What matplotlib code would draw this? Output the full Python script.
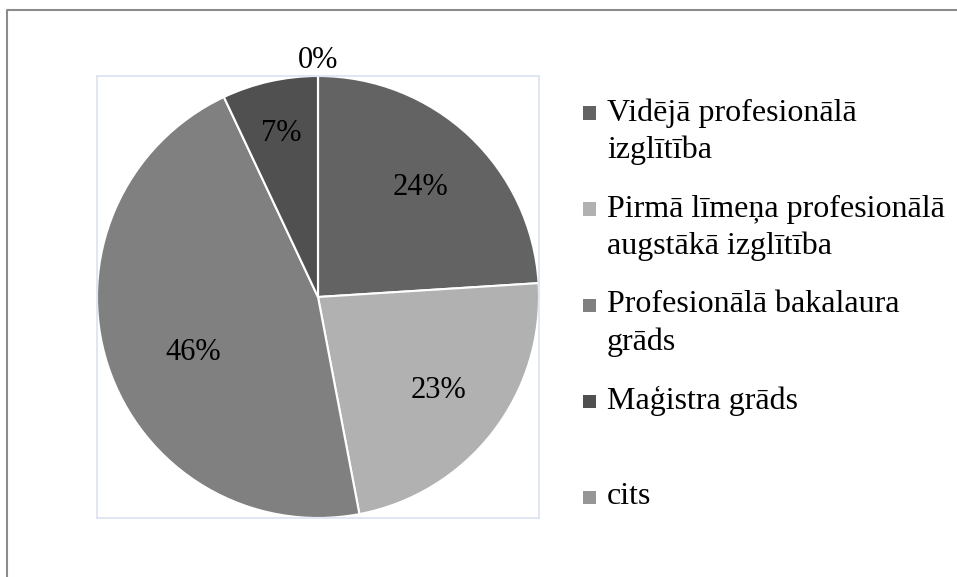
import numpy as np
import matplotlib.pyplot as plt
from matplotlib.lines import Line2D
from matplotlib.patches import Rectangle

# education level shares (%)
categories = ['Vidējā profesionālā izglītība',
              'Pirmā līmeņa profesionālā augstākā izglītība',
              'Profesionālā bakalaura grāds',
              'Maģistra grāds',
              'cits']
legend_lines = [['Vidējā profesionālā', 'izglītība'],
                ['Pirmā līmeņa profesionālā', 'augstākā izglītība'],
                ['Profesionālā bakalaura', 'grāds'],
                ['Maģistra grāds'],
                ['cits']]
shares = [24, 23, 46, 7, 0]
colors = ['#636363', '#b1b1b1', '#808080', '#505050', '#969696']

plt.rcParams['font.family'] = ['Liberation Serif', 'DejaVu Serif']

W, H = 957, 577
fig = plt.figure(figsize=(W / 100, H / 100), dpi=100)

# pie axes, placed in pixel terms
left, right, top, bottom = 97, 539, 76, 518
ax = fig.add_axes([left / W, 1 - bottom / H, (right - left) / W, (bottom - top) / H])
wedges, _ = ax.pie(shares, colors=colors, startangle=90, counterclock=False,
                   wedgeprops=dict(edgecolor='white', linewidth=1.5))
ax.set_xlim(-1, 1)
ax.set_ylim(-1, 1)
ax.set_aspect('equal')
ax.set_frame_on(True)
ax.set_xticks([])
ax.set_yticks([])
for sp in ax.spines.values():
    sp.set_color('#dce3f0')
    sp.set_linewidth(1.2)

# data labels (distance from centre, angle nudge in degrees)
label_dist = [0.68, 0.69, 0.62, 0.76, 1.07]
label_nudge = [0, 0, 6, 0, 0]
for w, val, d, nudge in zip(wedges, shares, label_dist, label_nudge):
    ang = np.deg2rad((w.theta1 + w.theta2) / 2 + nudge)
    ax.text(d * np.cos(ang), d * np.sin(ang), f'{val}%', ha='center', va='center',
            fontsize=22, color='#000000', clip_on=False)

# legend drawn by hand in equal slots
slot_top = 113
slot_step = 96
line_step = 37
for i, lines in enumerate(legend_lines):
    y0 = slot_top + i * slot_step
    fig.patches.append(Rectangle((583 / W, 1 - (y0 + 6.5) / H), 13 / W, 13 / H,
                                 transform=fig.transFigure, facecolor=colors[i],
                                 edgecolor='none'))
    for k, txt in enumerate(lines):
        fig.text(607 / W, 1 - (y0 + k * line_step) / H, txt, ha='left', va='center',
                 fontsize=23, color='#000000')

# outer chart border (cut at right and bottom)
fig.lines.append(Line2D([7 / W, 7 / W, 1.0], [0.0, 1 - 10 / H, 1 - 10 / H],
                        transform=fig.transFigure, color='#8c8c8c', linewidth=1.5))

fig.savefig('out.png', dpi=100, facecolor='white')
